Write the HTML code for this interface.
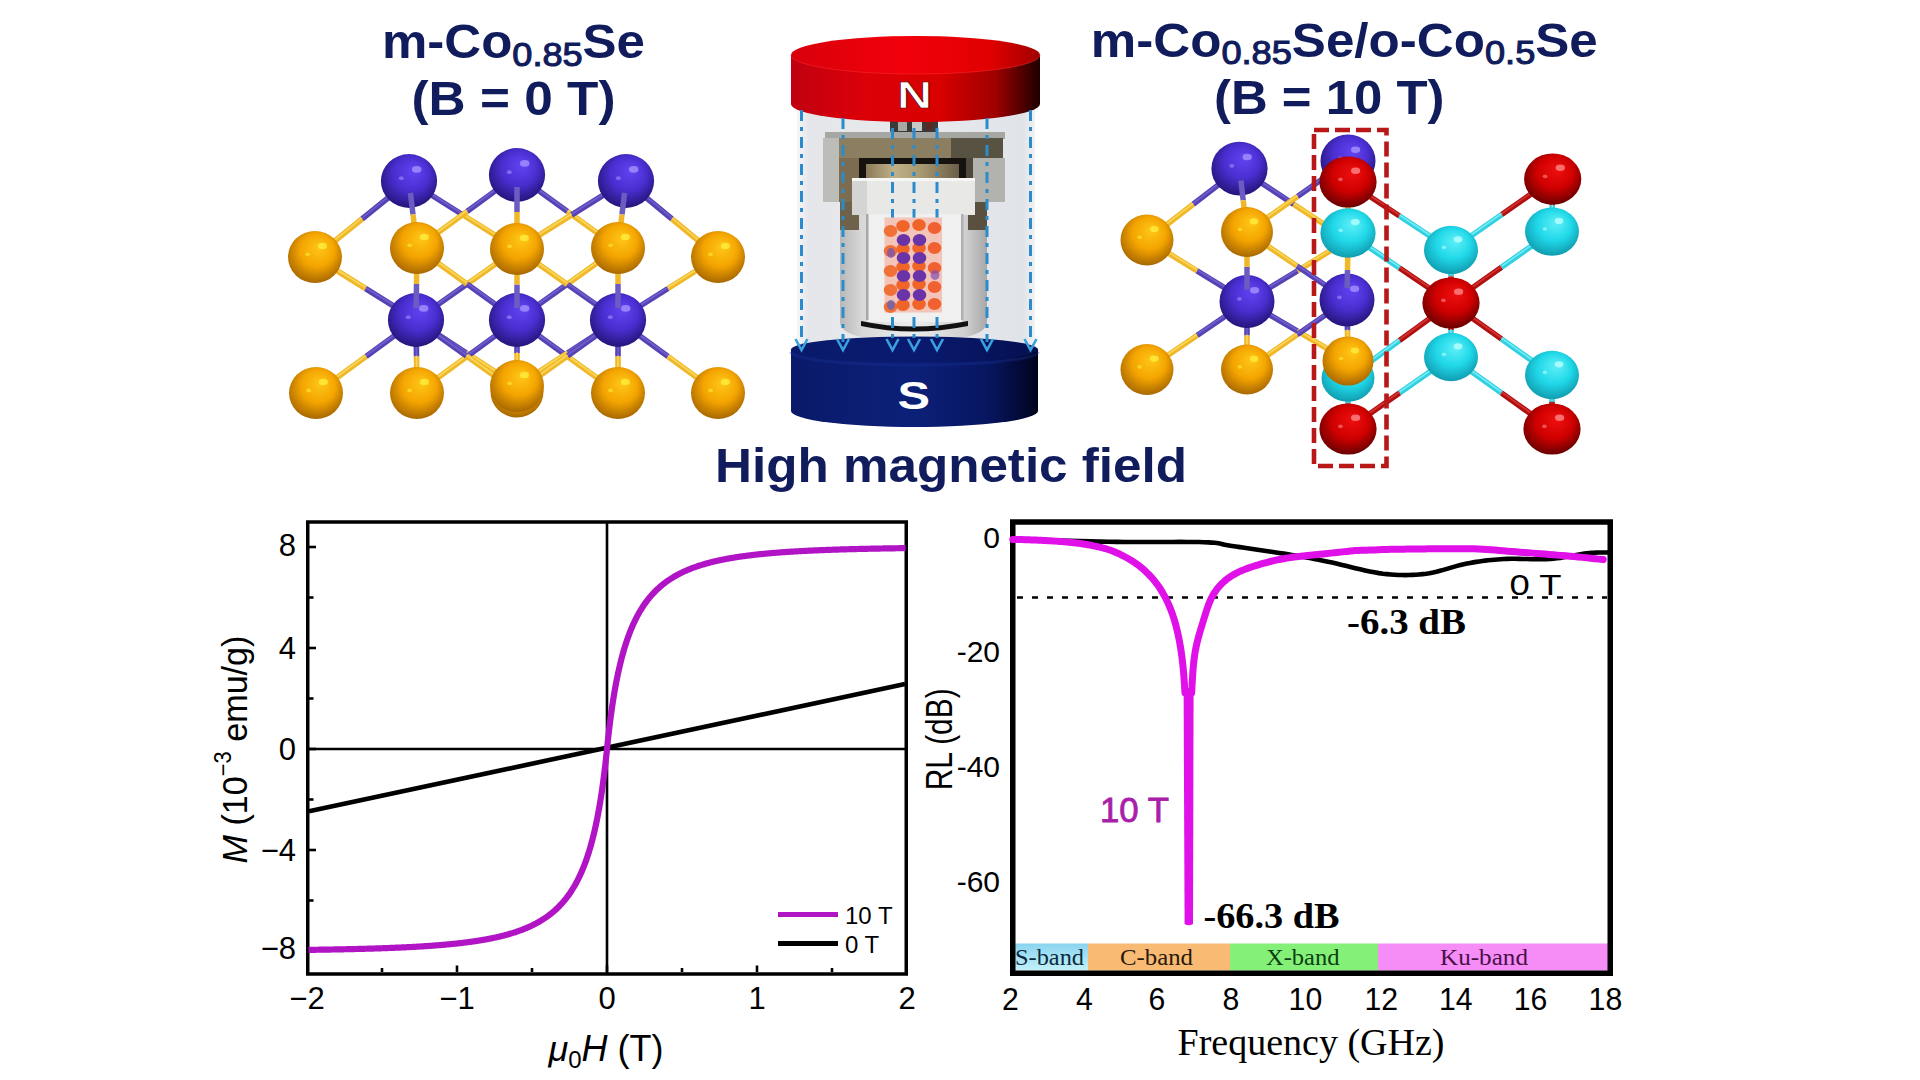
<!DOCTYPE html>
<html><head><meta charset="utf-8"><style>
html,body{margin:0;padding:0;background:#fff;}
body{width:1920px;height:1080px;overflow:hidden;position:relative;}
svg{position:absolute;left:0;top:0;}
text{font-family:"Liberation Sans",sans-serif;}
.tk{font-size:31px;fill:#000;}
.tk2{font-size:30px;fill:#000;}
.lg{font-size:24px;fill:#000;}
.lg2{font-size:30px;fill:#000;}
.al{font-size:36px;fill:#000;}
.al2{font-family:"Liberation Serif",serif;font-size:38px;fill:#000;}
.bd{font-family:"Liberation Serif",serif;font-size:24px;}
.db{font-family:"Liberation Serif",serif;font-weight:bold;font-size:36px;fill:#000;}
.mg{font-size:35px;fill:#a820a8;stroke:#a820a8;stroke-width:0.8px;}
.ttl{font-weight:bold;fill:#101c5c;}
</style></head><body>
<svg width="1920" height="1080" viewBox="0 0 1920 1080">
<defs><radialGradient id="gP" cx="0.5" cy="0.42" r="0.58" fx="0.6" fy="0.3"><stop offset="0" stop-color="#6444f4"/><stop offset="0.55" stop-color="#4a2ed0"/><stop offset="1" stop-color="#24157a"/></radialGradient>
<radialGradient id="gO" cx="0.5" cy="0.42" r="0.58" fx="0.6" fy="0.3"><stop offset="0" stop-color="#ffc818"/><stop offset="0.55" stop-color="#f4a400"/><stop offset="1" stop-color="#a86800"/></radialGradient>
<radialGradient id="gR" cx="0.5" cy="0.42" r="0.58" fx="0.6" fy="0.3"><stop offset="0" stop-color="#f01010"/><stop offset="0.55" stop-color="#d00000"/><stop offset="1" stop-color="#6a0000"/></radialGradient>
<radialGradient id="gC" cx="0.5" cy="0.42" r="0.58" fx="0.6" fy="0.3"><stop offset="0" stop-color="#60f0f8"/><stop offset="0.55" stop-color="#20d8e8"/><stop offset="1" stop-color="#109cb0"/></radialGradient><linearGradient id="sb" x1="0" y1="0" x2="0" y2="1"><stop offset="0" stop-color="#8ad4f0"/><stop offset="1" stop-color="#c4f0f8"/></linearGradient></defs>
<text x="382" y="57.6" class="ttl" font-size="48" textLength="263" lengthAdjust="spacingAndGlyphs">m-Co<tspan font-size="34" font-weight="normal" stroke="#101c5c" stroke-width="1.1" dy="8.6">0.85</tspan><tspan dy="-8.6">Se</tspan></text>
<text x="411.5" y="114.7" class="ttl" font-size="48" textLength="204" lengthAdjust="spacingAndGlyphs">(B = 0 T)</text>
<text x="1090.8" y="57.3" class="ttl" font-size="48" textLength="507" lengthAdjust="spacingAndGlyphs">m-Co<tspan font-size="34" font-weight="normal" stroke="#101c5c" stroke-width="1.1" dy="6.8">0.85</tspan><tspan dy="-6.8">Se/o-Co</tspan><tspan font-size="34" font-weight="normal" stroke="#101c5c" stroke-width="1.1" dy="6.8">0.5</tspan><tspan dy="-6.8">Se</tspan></text>
<text x="1214" y="114.3" class="ttl" font-size="48" textLength="230.5" lengthAdjust="spacingAndGlyphs">(B = 10 T)</text>
<text x="715" y="482" class="ttl" font-size="48" textLength="472" lengthAdjust="spacingAndGlyphs">High magnetic field</text>
<defs><linearGradient id="glass" x1="0" y1="0" x2="1" y2="0"><stop offset="0" stop-color="#f4f6f8"/><stop offset="0.05" stop-color="#e4e6ea"/><stop offset="0.5" stop-color="#e8eaee"/><stop offset="0.95" stop-color="#e0e3e8"/><stop offset="1" stop-color="#f0f2f4"/></linearGradient><linearGradient id="redside" x1="0" y1="0" x2="1" y2="0"><stop offset="0" stop-color="#c00010"/><stop offset="0.3" stop-color="#dc0008"/><stop offset="0.6" stop-color="#d80000"/><stop offset="0.82" stop-color="#a00000"/><stop offset="0.95" stop-color="#400000"/><stop offset="1" stop-color="#200000"/></linearGradient><linearGradient id="redtop" x1="0" y1="0" x2="1" y2="0"><stop offset="0" stop-color="#d8000a"/><stop offset="0.45" stop-color="#f2000c"/><stop offset="0.8" stop-color="#e00000"/><stop offset="1" stop-color="#a00000"/></linearGradient><linearGradient id="blueside" x1="0" y1="0" x2="1" y2="0"><stop offset="0" stop-color="#0a1a6a"/><stop offset="0.5" stop-color="#0c2078"/><stop offset="0.8" stop-color="#081660"/><stop offset="0.95" stop-color="#020830"/><stop offset="1" stop-color="#000418"/></linearGradient><linearGradient id="bluetop" x1="0" y1="0" x2="1" y2="0"><stop offset="0" stop-color="#0a1a6a"/><stop offset="0.5" stop-color="#0a1a70"/><stop offset="1" stop-color="#051050"/></linearGradient><linearGradient id="cyl" x1="0" y1="0" x2="1" y2="0"><stop offset="0" stop-color="#b8b8b8"/><stop offset="0.15" stop-color="#d8d8d8"/><stop offset="0.5" stop-color="#ececec"/><stop offset="0.85" stop-color="#d0d0d0"/><stop offset="1" stop-color="#a8a8a8"/></linearGradient><linearGradient id="capg" x1="0" y1="0" x2="1" y2="0"><stop offset="0" stop-color="#b8b8b4"/><stop offset="0.5" stop-color="#c8c8c4"/><stop offset="1" stop-color="#a0a09c"/></linearGradient><linearGradient id="khaki" x1="0" y1="0" x2="1" y2="0"><stop offset="0" stop-color="#7a6c50"/><stop offset="0.4" stop-color="#9a8a68"/><stop offset="0.7" stop-color="#6a5e48"/><stop offset="1" stop-color="#4a4436"/></linearGradient><linearGradient id="ring" x1="0" y1="0" x2="1" y2="0"><stop offset="0" stop-color="#8a7a58"/><stop offset="0.3" stop-color="#c0b088"/><stop offset="0.6" stop-color="#a89870"/><stop offset="1" stop-color="#6a5e48"/></linearGradient></defs>
<rect x="797" y="95" width="238" height="255" fill="url(#glass)"/>
<rect x="890" y="119" width="48" height="14" rx="3" fill="#3a3a38"/>
<rect x="898" y="121" width="9" height="10" fill="#a8a8a4"/><rect x="912" y="121" width="10" height="10" fill="#c8c8c4"/><rect x="926" y="121" width="7" height="9" fill="#5a2a22"/>
<path d="M840,198 L987,198 L987,322 Q987,341 913,341 Q840,341 840,322 Z" fill="url(#cyl)"/>
<rect x="840" y="200" width="19" height="30" fill="#6e624a"/>
<rect x="968" y="200" width="19" height="30" fill="#5a5040"/>
<rect x="825" y="132" width="180" height="7" fill="#a6a6a2"/>
<rect x="838" y="138" width="113" height="21" fill="#8c7e60"/>
<rect x="951" y="138" width="52" height="20" fill="#585242"/>
<rect x="823" y="138" width="16" height="64" fill="#bcbcb8"/>
<rect x="839" y="158" width="20" height="44" fill="#7c6c50"/>
<rect x="973" y="158" width="32" height="44" fill="#b2b2ae"/>
<rect x="958" y="158" width="15" height="44" fill="#4e483a"/>
<rect x="859" y="158" width="107" height="23" fill="#151210"/>
<rect x="866" y="164" width="93" height="16" fill="url(#ring)"/>
<path d="M852,178 L975,178 L975,215 L852,215 Z" fill="#e8e8e6"/>
<rect x="852" y="178" width="15" height="37" fill="#d4d4d2"/>
<rect x="852" y="178" width="123" height="3" fill="#f6f6f4"/>
<rect x="868" y="214" width="94" height="108" fill="#f0f0f0"/>
<rect x="866" y="214" width="2.5" height="106" fill="#a8a8a8"/>
<rect x="961" y="214" width="2.5" height="106" fill="#b0b0b0"/>
<path d="M861,321 Q913,332 968,321 L968,326 Q913,337 861,326 Z" fill="#111"/>
<path d="M791,55 L1040,55 L1040,104 A124.5,18 0 0 1 791,104 Z" fill="url(#redside)"/>
<ellipse cx="915.5" cy="55" rx="124.5" ry="19" fill="url(#redtop)"/>
<path d="M791,55 A124.5,19 0 0 0 1040,55" fill="none" stroke="#ff3030" stroke-width="1" opacity="0.5"/>
<text x="914.5" y="107.5" text-anchor="middle" font-family="Liberation Sans" font-weight="bold" font-size="37.5" fill="#fff" stroke="#6a0000" stroke-width="0.7" textLength="35" lengthAdjust="spacingAndGlyphs">N</text>
<path d="M791,349.5 L1038,349.5 L1038,411 A123.5,16 0 0 1 791,411 Z" fill="url(#blueside)"/>
<ellipse cx="914.5" cy="349.5" rx="123.5" ry="13" fill="url(#bluetop)"/>
<path d="M791,352 A123.5,13 0 0 0 1038,352" fill="none" stroke="#1a3098" stroke-width="3" opacity="0.35"/>
<text x="913.8" y="409" text-anchor="middle" font-family="Liberation Sans" font-weight="bold" font-size="38.5" fill="#fff" textLength="32.5" lengthAdjust="spacingAndGlyphs">S</text>
<line x1="801.5" y1="110" x2="801.5" y2="342" stroke="#2a8ccc" stroke-width="3" stroke-dasharray="11 6 4 6"/>
<path d="M795.5,339 L801.5,350 L807.5,339" fill="none" stroke="#3aa0e0" stroke-width="2.6"/>
<line x1="843" y1="118" x2="843" y2="342" stroke="#2a8ccc" stroke-width="3" stroke-dasharray="11 6 4 6"/>
<path d="M837,339 L843,350 L849,339" fill="none" stroke="#3aa0e0" stroke-width="2.6"/>
<line x1="892.5" y1="128" x2="892.5" y2="342" stroke="#2a8ccc" stroke-width="3" stroke-dasharray="11 6 4 6"/>
<path d="M886.5,339 L892.5,350 L898.5,339" fill="none" stroke="#3aa0e0" stroke-width="2.6"/>
<line x1="914" y1="128" x2="914" y2="342" stroke="#2a8ccc" stroke-width="3" stroke-dasharray="11 6 4 6"/>
<path d="M908,339 L914,350 L920,339" fill="none" stroke="#3aa0e0" stroke-width="2.6"/>
<line x1="937" y1="128" x2="937" y2="342" stroke="#2a8ccc" stroke-width="3" stroke-dasharray="11 6 4 6"/>
<path d="M931,339 L937,350 L943,339" fill="none" stroke="#3aa0e0" stroke-width="2.6"/>
<line x1="987" y1="118" x2="987" y2="342" stroke="#2a8ccc" stroke-width="3" stroke-dasharray="11 6 4 6"/>
<path d="M981,339 L987,350 L993,339" fill="none" stroke="#3aa0e0" stroke-width="2.6"/>
<line x1="1030.5" y1="110" x2="1030.5" y2="342" stroke="#2a8ccc" stroke-width="3" stroke-dasharray="11 6 4 6"/>
<path d="M1024.5,339 L1030.5,350 L1036.5,339" fill="none" stroke="#3aa0e0" stroke-width="2.6"/>
<rect x="884.5" y="217.5" width="57.5" height="95" fill="#f4c4b8"/>
<ellipse cx="890.5" cy="231" rx="6.8" ry="6" fill="#f07038"/>
<ellipse cx="934.5" cy="228" rx="6.8" ry="6" fill="#f06030"/>
<ellipse cx="890.5" cy="251" rx="6.8" ry="6" fill="#f07038"/>
<ellipse cx="934.5" cy="248" rx="6.8" ry="6" fill="#f06030"/>
<ellipse cx="890.5" cy="271" rx="6.8" ry="6" fill="#f07038"/>
<ellipse cx="934.5" cy="268" rx="6.8" ry="6" fill="#f06030"/>
<ellipse cx="890.5" cy="290" rx="6.8" ry="6" fill="#f07038"/>
<ellipse cx="934.5" cy="287" rx="6.8" ry="6" fill="#f06030"/>
<ellipse cx="890.5" cy="307" rx="6.8" ry="6" fill="#f07038"/>
<ellipse cx="934.5" cy="304" rx="6.8" ry="6" fill="#f06030"/>
<ellipse cx="903" cy="226" rx="6.8" ry="6" fill="#f06428"/>
<ellipse cx="919" cy="225" rx="6.8" ry="6" fill="#f06428"/>
<ellipse cx="903" cy="249" rx="6.8" ry="6" fill="#f06428"/>
<ellipse cx="919" cy="248" rx="6.8" ry="6" fill="#f06428"/>
<ellipse cx="903" cy="267" rx="6.8" ry="6" fill="#f06428"/>
<ellipse cx="919" cy="266" rx="6.8" ry="6" fill="#f06428"/>
<ellipse cx="903" cy="285" rx="6.8" ry="6" fill="#f06428"/>
<ellipse cx="919" cy="284" rx="6.8" ry="6" fill="#f06428"/>
<ellipse cx="903" cy="305" rx="6.8" ry="6" fill="#f06428"/>
<ellipse cx="919" cy="304" rx="6.8" ry="6" fill="#f06428"/>
<ellipse cx="903.5" cy="240" rx="6.8" ry="6" fill="#6a34a8"/>
<ellipse cx="919.5" cy="240" rx="6.8" ry="6" fill="#6a34a8"/>
<ellipse cx="903.5" cy="258" rx="6.8" ry="6" fill="#6a34a8"/>
<ellipse cx="919.5" cy="258" rx="6.8" ry="6" fill="#6a34a8"/>
<ellipse cx="903.5" cy="276" rx="6.8" ry="6" fill="#6a34a8"/>
<ellipse cx="919.5" cy="276" rx="6.8" ry="6" fill="#6a34a8"/>
<ellipse cx="903.5" cy="295" rx="6.8" ry="6" fill="#6a34a8"/>
<ellipse cx="919.5" cy="295" rx="6.8" ry="6" fill="#6a34a8"/>
<ellipse cx="891" cy="253" rx="4" ry="5" fill="#6a50c0" opacity="0.7"/>
<ellipse cx="935" cy="275" rx="4.5" ry="5" fill="#8050b0" opacity="0.7"/>
<ellipse cx="891" cy="305" rx="4" ry="5" fill="#5060c8" opacity="0.7"/>
<line x1="409" y1="181" x2="362.0" y2="219.0" stroke="#5642b4" stroke-width="5.6"/><line x1="362.0" y1="219.0" x2="315" y2="257" stroke="#f0b828" stroke-width="5.6"/><line x1="409" y1="180" x2="362.0" y2="218.0" stroke="#7a6ad8" stroke-width="1.6" opacity="0.7"/><line x1="362.0" y1="218.0" x2="315" y2="256" stroke="#ffe470" stroke-width="1.6" opacity="0.7"/>
<line x1="409" y1="181" x2="463.0" y2="215.0" stroke="#5642b4" stroke-width="5.6"/><line x1="463.0" y1="215.0" x2="517" y2="249" stroke="#f0b828" stroke-width="5.6"/><line x1="409" y1="180" x2="463.0" y2="214.0" stroke="#7a6ad8" stroke-width="1.6" opacity="0.7"/><line x1="463.0" y1="214.0" x2="517" y2="248" stroke="#ffe470" stroke-width="1.6" opacity="0.7"/>
<line x1="517" y1="175" x2="467.0" y2="211.5" stroke="#5642b4" stroke-width="5.6"/><line x1="467.0" y1="211.5" x2="417" y2="248" stroke="#f0b828" stroke-width="5.6"/><line x1="517" y1="174" x2="467.0" y2="210.5" stroke="#7a6ad8" stroke-width="1.6" opacity="0.7"/><line x1="467.0" y1="210.5" x2="417" y2="247" stroke="#ffe470" stroke-width="1.6" opacity="0.7"/>
<line x1="517" y1="175" x2="567.5" y2="211.5" stroke="#5642b4" stroke-width="5.6"/><line x1="567.5" y1="211.5" x2="618" y2="248" stroke="#f0b828" stroke-width="5.6"/><line x1="517" y1="174" x2="567.5" y2="210.5" stroke="#7a6ad8" stroke-width="1.6" opacity="0.7"/><line x1="567.5" y1="210.5" x2="618" y2="247" stroke="#ffe470" stroke-width="1.6" opacity="0.7"/>
<line x1="626" y1="181" x2="571.5" y2="215.0" stroke="#5642b4" stroke-width="5.6"/><line x1="571.5" y1="215.0" x2="517" y2="249" stroke="#f0b828" stroke-width="5.6"/><line x1="626" y1="180" x2="571.5" y2="214.0" stroke="#7a6ad8" stroke-width="1.6" opacity="0.7"/><line x1="571.5" y1="214.0" x2="517" y2="248" stroke="#ffe470" stroke-width="1.6" opacity="0.7"/>
<line x1="626" y1="181" x2="672.0" y2="219.0" stroke="#5642b4" stroke-width="5.6"/><line x1="672.0" y1="219.0" x2="718" y2="257" stroke="#f0b828" stroke-width="5.6"/><line x1="626" y1="180" x2="672.0" y2="218.0" stroke="#7a6ad8" stroke-width="1.6" opacity="0.7"/><line x1="672.0" y1="218.0" x2="718" y2="256" stroke="#ffe470" stroke-width="1.6" opacity="0.7"/>
<line x1="416" y1="320" x2="365.5" y2="288.5" stroke="#5642b4" stroke-width="5.6"/><line x1="365.5" y1="288.5" x2="315" y2="257" stroke="#f0b828" stroke-width="5.6"/><line x1="416" y1="319" x2="365.5" y2="287.5" stroke="#7a6ad8" stroke-width="1.6" opacity="0.7"/><line x1="365.5" y1="287.5" x2="315" y2="256" stroke="#ffe470" stroke-width="1.6" opacity="0.7"/>
<line x1="416" y1="320" x2="466.5" y2="284.5" stroke="#5642b4" stroke-width="5.6"/><line x1="466.5" y1="284.5" x2="517" y2="249" stroke="#f0b828" stroke-width="5.6"/><line x1="416" y1="319" x2="466.5" y2="283.5" stroke="#7a6ad8" stroke-width="1.6" opacity="0.7"/><line x1="466.5" y1="283.5" x2="517" y2="248" stroke="#ffe470" stroke-width="1.6" opacity="0.7"/>
<line x1="416" y1="320" x2="366.0" y2="356.5" stroke="#5642b4" stroke-width="5.6"/><line x1="366.0" y1="356.5" x2="316" y2="393" stroke="#f0b828" stroke-width="5.6"/><line x1="416" y1="319" x2="366.0" y2="355.5" stroke="#7a6ad8" stroke-width="1.6" opacity="0.7"/><line x1="366.0" y1="355.5" x2="316" y2="392" stroke="#ffe470" stroke-width="1.6" opacity="0.7"/>
<line x1="416" y1="320" x2="466.5" y2="353.0" stroke="#5642b4" stroke-width="5.6"/><line x1="466.5" y1="353.0" x2="517" y2="386" stroke="#f0b828" stroke-width="5.6"/><line x1="416" y1="319" x2="466.5" y2="352.0" stroke="#7a6ad8" stroke-width="1.6" opacity="0.7"/><line x1="466.5" y1="352.0" x2="517" y2="385" stroke="#ffe470" stroke-width="1.6" opacity="0.7"/>
<line x1="416" y1="320" x2="416.5" y2="356.5" stroke="#5642b4" stroke-width="5.6"/><line x1="416.5" y1="356.5" x2="417" y2="393" stroke="#f0b828" stroke-width="5.6"/><line x1="416" y1="319" x2="416.5" y2="355.5" stroke="#7a6ad8" stroke-width="1.6" opacity="0.7"/><line x1="416.5" y1="355.5" x2="417" y2="392" stroke="#ffe470" stroke-width="1.6" opacity="0.7"/>
<line x1="517" y1="320" x2="467.0" y2="284.0" stroke="#5642b4" stroke-width="5.6"/><line x1="467.0" y1="284.0" x2="417" y2="248" stroke="#f0b828" stroke-width="5.6"/><line x1="517" y1="319" x2="467.0" y2="283.0" stroke="#7a6ad8" stroke-width="1.6" opacity="0.7"/><line x1="467.0" y1="283.0" x2="417" y2="247" stroke="#ffe470" stroke-width="1.6" opacity="0.7"/>
<line x1="517" y1="320" x2="567.5" y2="284.0" stroke="#5642b4" stroke-width="5.6"/><line x1="567.5" y1="284.0" x2="618" y2="248" stroke="#f0b828" stroke-width="5.6"/><line x1="517" y1="319" x2="567.5" y2="283.0" stroke="#7a6ad8" stroke-width="1.6" opacity="0.7"/><line x1="567.5" y1="283.0" x2="618" y2="247" stroke="#ffe470" stroke-width="1.6" opacity="0.7"/>
<line x1="517" y1="320" x2="467.0" y2="356.5" stroke="#5642b4" stroke-width="5.6"/><line x1="467.0" y1="356.5" x2="417" y2="393" stroke="#f0b828" stroke-width="5.6"/><line x1="517" y1="319" x2="467.0" y2="355.5" stroke="#7a6ad8" stroke-width="1.6" opacity="0.7"/><line x1="467.0" y1="355.5" x2="417" y2="392" stroke="#ffe470" stroke-width="1.6" opacity="0.7"/>
<line x1="517" y1="320" x2="567.5" y2="356.5" stroke="#5642b4" stroke-width="5.6"/><line x1="567.5" y1="356.5" x2="618" y2="393" stroke="#f0b828" stroke-width="5.6"/><line x1="517" y1="319" x2="567.5" y2="355.5" stroke="#7a6ad8" stroke-width="1.6" opacity="0.7"/><line x1="567.5" y1="355.5" x2="618" y2="392" stroke="#ffe470" stroke-width="1.6" opacity="0.7"/>
<line x1="517" y1="320" x2="517.0" y2="353.0" stroke="#5642b4" stroke-width="5.6"/><line x1="517.0" y1="353.0" x2="517" y2="386" stroke="#f0b828" stroke-width="5.6"/><line x1="517" y1="319" x2="517.0" y2="352.0" stroke="#7a6ad8" stroke-width="1.6" opacity="0.7"/><line x1="517.0" y1="352.0" x2="517" y2="385" stroke="#ffe470" stroke-width="1.6" opacity="0.7"/>
<line x1="618" y1="320" x2="567.5" y2="284.5" stroke="#5642b4" stroke-width="5.6"/><line x1="567.5" y1="284.5" x2="517" y2="249" stroke="#f0b828" stroke-width="5.6"/><line x1="618" y1="319" x2="567.5" y2="283.5" stroke="#7a6ad8" stroke-width="1.6" opacity="0.7"/><line x1="567.5" y1="283.5" x2="517" y2="248" stroke="#ffe470" stroke-width="1.6" opacity="0.7"/>
<line x1="618" y1="320" x2="668.0" y2="288.5" stroke="#5642b4" stroke-width="5.6"/><line x1="668.0" y1="288.5" x2="718" y2="257" stroke="#f0b828" stroke-width="5.6"/><line x1="618" y1="319" x2="668.0" y2="287.5" stroke="#7a6ad8" stroke-width="1.6" opacity="0.7"/><line x1="668.0" y1="287.5" x2="718" y2="256" stroke="#ffe470" stroke-width="1.6" opacity="0.7"/>
<line x1="618" y1="320" x2="567.5" y2="353.0" stroke="#5642b4" stroke-width="5.6"/><line x1="567.5" y1="353.0" x2="517" y2="386" stroke="#f0b828" stroke-width="5.6"/><line x1="618" y1="319" x2="567.5" y2="352.0" stroke="#7a6ad8" stroke-width="1.6" opacity="0.7"/><line x1="567.5" y1="352.0" x2="517" y2="385" stroke="#ffe470" stroke-width="1.6" opacity="0.7"/>
<line x1="618" y1="320" x2="668.0" y2="356.5" stroke="#5642b4" stroke-width="5.6"/><line x1="668.0" y1="356.5" x2="718" y2="393" stroke="#f0b828" stroke-width="5.6"/><line x1="618" y1="319" x2="668.0" y2="355.5" stroke="#7a6ad8" stroke-width="1.6" opacity="0.7"/><line x1="668.0" y1="355.5" x2="718" y2="392" stroke="#ffe470" stroke-width="1.6" opacity="0.7"/>
<line x1="618" y1="320" x2="618.0" y2="356.5" stroke="#5642b4" stroke-width="5.6"/><line x1="618.0" y1="356.5" x2="618" y2="393" stroke="#f0b828" stroke-width="5.6"/><line x1="618" y1="319" x2="618.0" y2="355.5" stroke="#7a6ad8" stroke-width="1.6" opacity="0.7"/><line x1="618.0" y1="355.5" x2="618" y2="392" stroke="#ffe470" stroke-width="1.6" opacity="0.7"/>
<line x1="416" y1="320" x2="466.5" y2="356.0" stroke="#5642b4" stroke-width="5.6"/><line x1="466.5" y1="356.0" x2="517" y2="392" stroke="#f0b828" stroke-width="5.6"/><line x1="416" y1="319" x2="466.5" y2="355.0" stroke="#7a6ad8" stroke-width="1.6" opacity="0.7"/><line x1="466.5" y1="355.0" x2="517" y2="391" stroke="#ffe470" stroke-width="1.6" opacity="0.7"/>
<line x1="618" y1="320" x2="567.5" y2="356.0" stroke="#5642b4" stroke-width="5.6"/><line x1="567.5" y1="356.0" x2="517" y2="392" stroke="#f0b828" stroke-width="5.6"/><line x1="618" y1="319" x2="567.5" y2="355.0" stroke="#7a6ad8" stroke-width="1.6" opacity="0.7"/><line x1="567.5" y1="355.0" x2="517" y2="391" stroke="#ffe470" stroke-width="1.6" opacity="0.7"/>
<ellipse cx="517" cy="392" rx="26.5" ry="25.5" fill="url(#gO)"/><ellipse cx="524.3" cy="381.1" rx="4.4" ry="3.1" fill="#fff040" opacity="0.75"/><ellipse cx="509.7" cy="389.4" rx="2.3" ry="1.8" fill="#fff040" opacity="0.55"/>
<ellipse cx="409" cy="181" rx="28.1" ry="26.9" fill="url(#gP)"/><ellipse cx="416.7" cy="169.4" rx="4.7" ry="3.3" fill="#a898ff" opacity="0.75"/><ellipse cx="401.3" cy="178.2" rx="2.5" ry="1.9" fill="#a898ff" opacity="0.55"/>
<ellipse cx="517" cy="175" rx="28.1" ry="26.9" fill="url(#gP)"/><ellipse cx="524.7" cy="163.4" rx="4.7" ry="3.3" fill="#a898ff" opacity="0.75"/><ellipse cx="509.3" cy="172.2" rx="2.5" ry="1.9" fill="#a898ff" opacity="0.55"/>
<ellipse cx="626" cy="181" rx="28.1" ry="26.9" fill="url(#gP)"/><ellipse cx="633.7" cy="169.4" rx="4.7" ry="3.3" fill="#a898ff" opacity="0.75"/><ellipse cx="618.3" cy="178.2" rx="2.5" ry="1.9" fill="#a898ff" opacity="0.55"/>
<ellipse cx="416" cy="320" rx="28.1" ry="26.9" fill="url(#gP)"/><ellipse cx="423.7" cy="308.4" rx="4.7" ry="3.3" fill="#a898ff" opacity="0.75"/><ellipse cx="408.3" cy="317.2" rx="2.5" ry="1.9" fill="#a898ff" opacity="0.55"/>
<ellipse cx="517" cy="320" rx="28.1" ry="26.9" fill="url(#gP)"/><ellipse cx="524.7" cy="308.4" rx="4.7" ry="3.3" fill="#a898ff" opacity="0.75"/><ellipse cx="509.3" cy="317.2" rx="2.5" ry="1.9" fill="#a898ff" opacity="0.55"/>
<ellipse cx="618" cy="320" rx="28.1" ry="26.9" fill="url(#gP)"/><ellipse cx="625.7" cy="308.4" rx="4.7" ry="3.3" fill="#a898ff" opacity="0.75"/><ellipse cx="610.3" cy="317.2" rx="2.5" ry="1.9" fill="#a898ff" opacity="0.55"/>
<line x1="410.4" y1="192.9" x2="413.0" y2="214.5" stroke="#6a5cc0" stroke-width="5.5"/><line x1="413.0" y1="214.5" x2="417" y2="248" stroke="#f0b828" stroke-width="5.5"/>
<line x1="517.0" y1="187.0" x2="517.0" y2="212.0" stroke="#6a5cc0" stroke-width="5.5"/><line x1="517.0" y1="212.0" x2="517" y2="249" stroke="#f0b828" stroke-width="5.5"/>
<line x1="624.6" y1="192.9" x2="622.0" y2="214.5" stroke="#6a5cc0" stroke-width="5.5"/><line x1="622.0" y1="214.5" x2="618" y2="248" stroke="#f0b828" stroke-width="5.5"/>
<line x1="416.2" y1="308.0" x2="416.5" y2="284.0" stroke="#6a5cc0" stroke-width="5.5"/><line x1="416.5" y1="284.0" x2="417" y2="248" stroke="#f0b828" stroke-width="5.5"/>
<line x1="517.0" y1="308.0" x2="517.0" y2="284.5" stroke="#6a5cc0" stroke-width="5.5"/><line x1="517.0" y1="284.5" x2="517" y2="249" stroke="#f0b828" stroke-width="5.5"/>
<line x1="618.0" y1="308.0" x2="618.0" y2="284.0" stroke="#6a5cc0" stroke-width="5.5"/><line x1="618.0" y1="284.0" x2="618" y2="248" stroke="#f0b828" stroke-width="5.5"/>
<ellipse cx="315" cy="257" rx="27.0" ry="26.0" fill="url(#gO)"/><ellipse cx="322.4" cy="245.9" rx="4.5" ry="3.2" fill="#fff040" opacity="0.75"/><ellipse cx="307.6" cy="254.3" rx="2.4" ry="1.9" fill="#fff040" opacity="0.55"/>
<ellipse cx="417" cy="248" rx="27.0" ry="26.0" fill="url(#gO)"/><ellipse cx="424.4" cy="236.9" rx="4.5" ry="3.2" fill="#fff040" opacity="0.75"/><ellipse cx="409.6" cy="245.3" rx="2.4" ry="1.9" fill="#fff040" opacity="0.55"/>
<ellipse cx="517" cy="249" rx="27.0" ry="26.0" fill="url(#gO)"/><ellipse cx="524.4" cy="237.9" rx="4.5" ry="3.2" fill="#fff040" opacity="0.75"/><ellipse cx="509.6" cy="246.3" rx="2.4" ry="1.9" fill="#fff040" opacity="0.55"/>
<ellipse cx="618" cy="248" rx="27.0" ry="26.0" fill="url(#gO)"/><ellipse cx="625.4" cy="236.9" rx="4.5" ry="3.2" fill="#fff040" opacity="0.75"/><ellipse cx="610.6" cy="245.3" rx="2.4" ry="1.9" fill="#fff040" opacity="0.55"/>
<ellipse cx="718" cy="257" rx="27.0" ry="26.0" fill="url(#gO)"/><ellipse cx="725.4" cy="245.9" rx="4.5" ry="3.2" fill="#fff040" opacity="0.75"/><ellipse cx="710.6" cy="254.3" rx="2.4" ry="1.9" fill="#fff040" opacity="0.55"/>
<ellipse cx="316" cy="393" rx="27.0" ry="26.0" fill="url(#gO)"/><ellipse cx="323.4" cy="381.9" rx="4.5" ry="3.2" fill="#fff040" opacity="0.75"/><ellipse cx="308.6" cy="390.4" rx="2.4" ry="1.9" fill="#fff040" opacity="0.55"/>
<ellipse cx="417" cy="393" rx="27.0" ry="26.0" fill="url(#gO)"/><ellipse cx="424.4" cy="381.9" rx="4.5" ry="3.2" fill="#fff040" opacity="0.75"/><ellipse cx="409.6" cy="390.4" rx="2.4" ry="1.9" fill="#fff040" opacity="0.55"/>
<ellipse cx="517" cy="386" rx="27.0" ry="26.0" fill="url(#gO)"/><ellipse cx="524.4" cy="374.9" rx="4.5" ry="3.2" fill="#fff040" opacity="0.75"/><ellipse cx="509.6" cy="383.4" rx="2.4" ry="1.9" fill="#fff040" opacity="0.55"/>
<ellipse cx="618" cy="393" rx="27.0" ry="26.0" fill="url(#gO)"/><ellipse cx="625.4" cy="381.9" rx="4.5" ry="3.2" fill="#fff040" opacity="0.75"/><ellipse cx="610.6" cy="390.4" rx="2.4" ry="1.9" fill="#fff040" opacity="0.55"/>
<ellipse cx="718" cy="393" rx="27.0" ry="26.0" fill="url(#gO)"/><ellipse cx="725.4" cy="381.9" rx="4.5" ry="3.2" fill="#fff040" opacity="0.75"/><ellipse cx="710.6" cy="390.4" rx="2.4" ry="1.9" fill="#fff040" opacity="0.55"/>
<line x1="1239.5" y1="168.6" x2="1193.2" y2="204.3" stroke="#5642b4" stroke-width="5.6"/><line x1="1193.2" y1="204.3" x2="1147" y2="240" stroke="#f0b828" stroke-width="5.6"/><line x1="1239.5" y1="167.6" x2="1193.2" y2="203.3" stroke="#7a6ad8" stroke-width="1.6" opacity="0.7"/><line x1="1193.2" y1="203.3" x2="1147" y2="239" stroke="#ffe470" stroke-width="1.6" opacity="0.7"/>
<line x1="1239.5" y1="168.6" x2="1293.8" y2="204.3" stroke="#5642b4" stroke-width="5.6"/><line x1="1293.8" y1="204.3" x2="1348" y2="240" stroke="#f0b828" stroke-width="5.6"/><line x1="1239.5" y1="167.6" x2="1293.8" y2="203.3" stroke="#7a6ad8" stroke-width="1.6" opacity="0.7"/><line x1="1293.8" y1="203.3" x2="1348" y2="239" stroke="#ffe470" stroke-width="1.6" opacity="0.7"/>
<line x1="1348" y1="161" x2="1297.5" y2="196.5" stroke="#5642b4" stroke-width="5.6"/><line x1="1297.5" y1="196.5" x2="1247" y2="232" stroke="#f0b828" stroke-width="5.6"/><line x1="1348" y1="160" x2="1297.5" y2="195.5" stroke="#7a6ad8" stroke-width="1.6" opacity="0.7"/><line x1="1297.5" y1="195.5" x2="1247" y2="231" stroke="#ffe470" stroke-width="1.6" opacity="0.7"/>
<line x1="1247" y1="301.5" x2="1197.0" y2="270.8" stroke="#5642b4" stroke-width="5.6"/><line x1="1197.0" y1="270.8" x2="1147" y2="240" stroke="#f0b828" stroke-width="5.6"/><line x1="1247" y1="300.5" x2="1197.0" y2="269.8" stroke="#7a6ad8" stroke-width="1.6" opacity="0.7"/><line x1="1197.0" y1="269.8" x2="1147" y2="239" stroke="#ffe470" stroke-width="1.6" opacity="0.7"/>
<line x1="1247" y1="301.5" x2="1297.5" y2="270.8" stroke="#5642b4" stroke-width="5.6"/><line x1="1297.5" y1="270.8" x2="1348" y2="240" stroke="#f0b828" stroke-width="5.6"/><line x1="1247" y1="300.5" x2="1297.5" y2="269.8" stroke="#7a6ad8" stroke-width="1.6" opacity="0.7"/><line x1="1297.5" y1="269.8" x2="1348" y2="239" stroke="#ffe470" stroke-width="1.6" opacity="0.7"/>
<line x1="1247" y1="301.5" x2="1197.0" y2="335.5" stroke="#5642b4" stroke-width="5.6"/><line x1="1197.0" y1="335.5" x2="1147" y2="369.5" stroke="#f0b828" stroke-width="5.6"/><line x1="1247" y1="300.5" x2="1197.0" y2="334.5" stroke="#7a6ad8" stroke-width="1.6" opacity="0.7"/><line x1="1197.0" y1="334.5" x2="1147" y2="368.5" stroke="#ffe470" stroke-width="1.6" opacity="0.7"/>
<line x1="1247" y1="301.5" x2="1247.0" y2="335.5" stroke="#5642b4" stroke-width="5.6"/><line x1="1247.0" y1="335.5" x2="1247" y2="369.5" stroke="#f0b828" stroke-width="5.6"/><line x1="1247" y1="300.5" x2="1247.0" y2="334.5" stroke="#7a6ad8" stroke-width="1.6" opacity="0.7"/><line x1="1247.0" y1="334.5" x2="1247" y2="368.5" stroke="#ffe470" stroke-width="1.6" opacity="0.7"/>
<line x1="1247" y1="301.5" x2="1297.5" y2="331.2" stroke="#5642b4" stroke-width="5.6"/><line x1="1297.5" y1="331.2" x2="1348" y2="361" stroke="#f0b828" stroke-width="5.6"/><line x1="1247" y1="300.5" x2="1297.5" y2="330.2" stroke="#7a6ad8" stroke-width="1.6" opacity="0.7"/><line x1="1297.5" y1="330.2" x2="1348" y2="360" stroke="#ffe470" stroke-width="1.6" opacity="0.7"/>
<line x1="1347" y1="300" x2="1297.0" y2="266.0" stroke="#5642b4" stroke-width="5.6"/><line x1="1297.0" y1="266.0" x2="1247" y2="232" stroke="#f0b828" stroke-width="5.6"/><line x1="1347" y1="299" x2="1297.0" y2="265.0" stroke="#7a6ad8" stroke-width="1.6" opacity="0.7"/><line x1="1297.0" y1="265.0" x2="1247" y2="231" stroke="#ffe470" stroke-width="1.6" opacity="0.7"/>
<line x1="1347" y1="300" x2="1297.0" y2="334.8" stroke="#5642b4" stroke-width="5.6"/><line x1="1297.0" y1="334.8" x2="1247" y2="369.5" stroke="#f0b828" stroke-width="5.6"/><line x1="1347" y1="299" x2="1297.0" y2="333.8" stroke="#7a6ad8" stroke-width="1.6" opacity="0.7"/><line x1="1297.0" y1="333.8" x2="1247" y2="368.5" stroke="#ffe470" stroke-width="1.6" opacity="0.7"/>
<line x1="1347" y1="300" x2="1347.5" y2="330.5" stroke="#5642b4" stroke-width="5.6"/><line x1="1347.5" y1="330.5" x2="1348" y2="361" stroke="#f0b828" stroke-width="5.6"/><line x1="1347" y1="299" x2="1347.5" y2="329.5" stroke="#7a6ad8" stroke-width="1.6" opacity="0.7"/><line x1="1347.5" y1="329.5" x2="1348" y2="360" stroke="#ffe470" stroke-width="1.6" opacity="0.7"/>
<line x1="1348" y1="182" x2="1399.5" y2="216.0" stroke="#b01010" stroke-width="5.6"/><line x1="1399.5" y1="216.0" x2="1451" y2="250" stroke="#30d0e0" stroke-width="5.6"/><line x1="1348" y1="181" x2="1399.5" y2="215.0" stroke="#e04040" stroke-width="1.6" opacity="0.7"/><line x1="1399.5" y1="215.0" x2="1451" y2="249" stroke="#90f8ff" stroke-width="1.6" opacity="0.7"/>
<line x1="1348" y1="233" x2="1399.5" y2="268.0" stroke="#30d0e0" stroke-width="5.6"/><line x1="1399.5" y1="268.0" x2="1451" y2="303" stroke="#b01010" stroke-width="5.6"/><line x1="1348" y1="232" x2="1399.5" y2="267.0" stroke="#90f8ff" stroke-width="1.6" opacity="0.7"/><line x1="1399.5" y1="267.0" x2="1451" y2="302" stroke="#e04040" stroke-width="1.6" opacity="0.7"/>
<line x1="1451" y1="303" x2="1501.5" y2="267.3" stroke="#b01010" stroke-width="5.6"/><line x1="1501.5" y1="267.3" x2="1552" y2="231.6" stroke="#30d0e0" stroke-width="5.6"/><line x1="1451" y1="302" x2="1501.5" y2="266.3" stroke="#e04040" stroke-width="1.6" opacity="0.7"/><line x1="1501.5" y1="266.3" x2="1552" y2="230.6" stroke="#90f8ff" stroke-width="1.6" opacity="0.7"/>
<line x1="1451" y1="250" x2="1501.8" y2="214.5" stroke="#30d0e0" stroke-width="5.6"/><line x1="1501.8" y1="214.5" x2="1552.7" y2="179" stroke="#b01010" stroke-width="5.6"/><line x1="1451" y1="249" x2="1501.8" y2="213.5" stroke="#90f8ff" stroke-width="1.6" opacity="0.7"/><line x1="1501.8" y1="213.5" x2="1552.7" y2="178" stroke="#e04040" stroke-width="1.6" opacity="0.7"/>
<line x1="1451" y1="250" x2="1451.0" y2="276.5" stroke="#30d0e0" stroke-width="5.6"/><line x1="1451.0" y1="276.5" x2="1451" y2="303" stroke="#b01010" stroke-width="5.6"/><line x1="1451" y1="249" x2="1451.0" y2="275.5" stroke="#90f8ff" stroke-width="1.6" opacity="0.7"/><line x1="1451.0" y1="275.5" x2="1451" y2="302" stroke="#e04040" stroke-width="1.6" opacity="0.7"/>
<line x1="1451" y1="303" x2="1451.0" y2="330.0" stroke="#b01010" stroke-width="5.6"/><line x1="1451.0" y1="330.0" x2="1451" y2="357" stroke="#30d0e0" stroke-width="5.6"/><line x1="1451" y1="302" x2="1451.0" y2="329.0" stroke="#e04040" stroke-width="1.6" opacity="0.7"/><line x1="1451.0" y1="329.0" x2="1451" y2="356" stroke="#90f8ff" stroke-width="1.6" opacity="0.7"/>
<line x1="1451" y1="303" x2="1501.5" y2="339.0" stroke="#b01010" stroke-width="5.6"/><line x1="1501.5" y1="339.0" x2="1552" y2="375" stroke="#30d0e0" stroke-width="5.6"/><line x1="1451" y1="302" x2="1501.5" y2="338.0" stroke="#e04040" stroke-width="1.6" opacity="0.7"/><line x1="1501.5" y1="338.0" x2="1552" y2="374" stroke="#90f8ff" stroke-width="1.6" opacity="0.7"/>
<line x1="1348" y1="378" x2="1399.5" y2="340.5" stroke="#30d0e0" stroke-width="5.6"/><line x1="1399.5" y1="340.5" x2="1451" y2="303" stroke="#b01010" stroke-width="5.6"/><line x1="1348" y1="377" x2="1399.5" y2="339.5" stroke="#90f8ff" stroke-width="1.6" opacity="0.7"/><line x1="1399.5" y1="339.5" x2="1451" y2="302" stroke="#e04040" stroke-width="1.6" opacity="0.7"/>
<line x1="1451" y1="357" x2="1399.5" y2="393.0" stroke="#30d0e0" stroke-width="5.6"/><line x1="1399.5" y1="393.0" x2="1348" y2="429" stroke="#b01010" stroke-width="5.6"/><line x1="1451" y1="356" x2="1399.5" y2="392.0" stroke="#90f8ff" stroke-width="1.6" opacity="0.7"/><line x1="1399.5" y1="392.0" x2="1348" y2="428" stroke="#e04040" stroke-width="1.6" opacity="0.7"/>
<line x1="1451" y1="357" x2="1501.5" y2="393.0" stroke="#30d0e0" stroke-width="5.6"/><line x1="1501.5" y1="393.0" x2="1552" y2="429" stroke="#b01010" stroke-width="5.6"/><line x1="1451" y1="356" x2="1501.5" y2="392.0" stroke="#90f8ff" stroke-width="1.6" opacity="0.7"/><line x1="1501.5" y1="392.0" x2="1552" y2="428" stroke="#e04040" stroke-width="1.6" opacity="0.7"/>
<line x1="1552" y1="375" x2="1552.0" y2="402.0" stroke="#30d0e0" stroke-width="5.6"/><line x1="1552.0" y1="402.0" x2="1552" y2="429" stroke="#b01010" stroke-width="5.6"/><line x1="1552" y1="374" x2="1552.0" y2="401.0" stroke="#90f8ff" stroke-width="1.6" opacity="0.7"/><line x1="1552.0" y1="401.0" x2="1552" y2="428" stroke="#e04040" stroke-width="1.6" opacity="0.7"/>
<line x1="1348" y1="182" x2="1348.0" y2="207.5" stroke="#b01010" stroke-width="5.6"/><line x1="1348.0" y1="207.5" x2="1348" y2="233" stroke="#30d0e0" stroke-width="5.6"/><line x1="1348" y1="181" x2="1348.0" y2="206.5" stroke="#e04040" stroke-width="1.6" opacity="0.7"/><line x1="1348.0" y1="206.5" x2="1348" y2="232" stroke="#90f8ff" stroke-width="1.6" opacity="0.7"/>
<line x1="1348" y1="378" x2="1348.0" y2="403.5" stroke="#30d0e0" stroke-width="5.6"/><line x1="1348.0" y1="403.5" x2="1348" y2="429" stroke="#b01010" stroke-width="5.6"/><line x1="1348" y1="377" x2="1348.0" y2="402.5" stroke="#90f8ff" stroke-width="1.6" opacity="0.7"/><line x1="1348.0" y1="402.5" x2="1348" y2="428" stroke="#e04040" stroke-width="1.6" opacity="0.7"/>
<line x1="1552" y1="231.6" x2="1552.3" y2="205.3" stroke="#30d0e0" stroke-width="5.6"/><line x1="1552.3" y1="205.3" x2="1552.7" y2="179" stroke="#b01010" stroke-width="5.6"/><line x1="1552" y1="230.6" x2="1552.3" y2="204.3" stroke="#90f8ff" stroke-width="1.6" opacity="0.7"/><line x1="1552.3" y1="204.3" x2="1552.7" y2="178" stroke="#e04040" stroke-width="1.6" opacity="0.7"/>
<ellipse cx="1348" cy="161" rx="27.5" ry="26.5" fill="url(#gP)"/><ellipse cx="1355.6" cy="149.7" rx="4.6" ry="3.2" fill="#a898ff" opacity="0.75"/><ellipse cx="1340.4" cy="158.3" rx="2.4" ry="1.9" fill="#a898ff" opacity="0.55"/>
<ellipse cx="1239.5" cy="168.6" rx="28.1" ry="26.9" fill="url(#gP)"/><ellipse cx="1247.2" cy="157.0" rx="4.7" ry="3.3" fill="#a898ff" opacity="0.75"/><ellipse cx="1231.8" cy="165.8" rx="2.5" ry="1.9" fill="#a898ff" opacity="0.55"/>
<ellipse cx="1247" cy="301.5" rx="27.5" ry="26.5" fill="url(#gP)"/><ellipse cx="1254.6" cy="290.2" rx="4.6" ry="3.2" fill="#a898ff" opacity="0.75"/><ellipse cx="1239.4" cy="298.8" rx="2.4" ry="1.9" fill="#a898ff" opacity="0.55"/>
<ellipse cx="1347" cy="300" rx="27.5" ry="26.5" fill="url(#gP)"/><ellipse cx="1354.6" cy="288.7" rx="4.6" ry="3.2" fill="#a898ff" opacity="0.75"/><ellipse cx="1339.4" cy="297.3" rx="2.4" ry="1.9" fill="#a898ff" opacity="0.55"/>
<line x1="1240.9" y1="180.5" x2="1243.2" y2="200.3" stroke="#6a5cc0" stroke-width="5.5"/><line x1="1243.2" y1="200.3" x2="1247" y2="232" stroke="#f0b828" stroke-width="5.5"/>
<line x1="1348.0" y1="173.0" x2="1348.0" y2="200.5" stroke="#6a5cc0" stroke-width="5.5"/><line x1="1348.0" y1="200.5" x2="1348" y2="240" stroke="#f0b828" stroke-width="5.5"/>
<line x1="1247.0" y1="289.5" x2="1247.0" y2="266.8" stroke="#6a5cc0" stroke-width="5.5"/><line x1="1247.0" y1="266.8" x2="1247" y2="232" stroke="#f0b828" stroke-width="5.5"/>
<line x1="1347.2" y1="288.0" x2="1347.5" y2="270.0" stroke="#6a5cc0" stroke-width="5.5"/><line x1="1347.5" y1="270.0" x2="1348" y2="240" stroke="#f0b828" stroke-width="5.5"/>
<ellipse cx="1147" cy="240" rx="26.5" ry="25.5" fill="url(#gO)"/><ellipse cx="1154.3" cy="229.1" rx="4.4" ry="3.1" fill="#fff040" opacity="0.75"/><ellipse cx="1139.7" cy="237.4" rx="2.3" ry="1.8" fill="#fff040" opacity="0.55"/>
<ellipse cx="1247" cy="232" rx="26.0" ry="25.0" fill="url(#gO)"/><ellipse cx="1254.1" cy="221.3" rx="4.3" ry="3.1" fill="#fff040" opacity="0.75"/><ellipse cx="1239.9" cy="229.4" rx="2.3" ry="1.8" fill="#fff040" opacity="0.55"/>
<ellipse cx="1147" cy="369.5" rx="26.5" ry="25.5" fill="url(#gO)"/><ellipse cx="1154.3" cy="358.6" rx="4.4" ry="3.1" fill="#fff040" opacity="0.75"/><ellipse cx="1139.7" cy="366.9" rx="2.3" ry="1.8" fill="#fff040" opacity="0.55"/>
<ellipse cx="1247" cy="369.5" rx="26.0" ry="25.0" fill="url(#gO)"/><ellipse cx="1254.1" cy="358.8" rx="4.3" ry="3.1" fill="#fff040" opacity="0.75"/><ellipse cx="1239.9" cy="366.9" rx="2.3" ry="1.8" fill="#fff040" opacity="0.55"/>
<ellipse cx="1348" cy="378" rx="26.5" ry="23.8" fill="url(#gC)"/><ellipse cx="1355.0" cy="367.5" rx="4.2" ry="3.0" fill="#c0ffff" opacity="0.75"/><ellipse cx="1341.0" cy="375.5" rx="2.2" ry="1.8" fill="#c0ffff" opacity="0.55"/>
<ellipse cx="1348" cy="361" rx="25.5" ry="24.5" fill="url(#gO)"/><ellipse cx="1355.0" cy="350.5" rx="4.2" ry="3.0" fill="#fff040" opacity="0.75"/><ellipse cx="1341.0" cy="358.5" rx="2.2" ry="1.8" fill="#fff040" opacity="0.55"/>
<ellipse cx="1348" cy="429" rx="28.6" ry="25.6" fill="url(#gR)"/><ellipse cx="1355.6" cy="417.7" rx="4.6" ry="3.2" fill="#ff9090" opacity="0.75"/><ellipse cx="1340.4" cy="426.3" rx="2.4" ry="1.9" fill="#ff9090" opacity="0.55"/>
<ellipse cx="1348" cy="182" rx="28.6" ry="25.6" fill="url(#gR)"/><ellipse cx="1355.6" cy="170.7" rx="4.6" ry="3.2" fill="#ff9090" opacity="0.75"/><ellipse cx="1340.4" cy="179.3" rx="2.4" ry="1.9" fill="#ff9090" opacity="0.55"/>
<ellipse cx="1348" cy="233" rx="27.6" ry="24.7" fill="url(#gC)"/><ellipse cx="1355.3" cy="222.1" rx="4.4" ry="3.1" fill="#c0ffff" opacity="0.75"/><ellipse cx="1340.7" cy="230.4" rx="2.3" ry="1.8" fill="#c0ffff" opacity="0.55"/>
<ellipse cx="1552.7" cy="179" rx="28.6" ry="25.6" fill="url(#gR)"/><ellipse cx="1560.3" cy="167.7" rx="4.6" ry="3.2" fill="#ff9090" opacity="0.75"/><ellipse cx="1545.1" cy="176.3" rx="2.4" ry="1.9" fill="#ff9090" opacity="0.55"/>
<ellipse cx="1552" cy="231.6" rx="27.0" ry="24.2" fill="url(#gC)"/><ellipse cx="1559.1" cy="220.9" rx="4.3" ry="3.1" fill="#c0ffff" opacity="0.75"/><ellipse cx="1544.9" cy="229.0" rx="2.3" ry="1.8" fill="#c0ffff" opacity="0.55"/>
<ellipse cx="1451" cy="250" rx="27.0" ry="24.2" fill="url(#gC)"/><ellipse cx="1458.1" cy="239.3" rx="4.3" ry="3.1" fill="#c0ffff" opacity="0.75"/><ellipse cx="1443.9" cy="247.4" rx="2.3" ry="1.8" fill="#c0ffff" opacity="0.55"/>
<ellipse cx="1451" cy="303" rx="28.6" ry="25.6" fill="url(#gR)"/><ellipse cx="1458.6" cy="291.7" rx="4.6" ry="3.2" fill="#ff9090" opacity="0.75"/><ellipse cx="1443.4" cy="300.3" rx="2.4" ry="1.9" fill="#ff9090" opacity="0.55"/>
<ellipse cx="1451" cy="357" rx="27.0" ry="24.2" fill="url(#gC)"/><ellipse cx="1458.1" cy="346.3" rx="4.3" ry="3.1" fill="#c0ffff" opacity="0.75"/><ellipse cx="1443.9" cy="354.4" rx="2.3" ry="1.8" fill="#c0ffff" opacity="0.55"/>
<ellipse cx="1552" cy="375" rx="27.0" ry="24.2" fill="url(#gC)"/><ellipse cx="1559.1" cy="364.3" rx="4.3" ry="3.1" fill="#c0ffff" opacity="0.75"/><ellipse cx="1544.9" cy="372.4" rx="2.3" ry="1.8" fill="#c0ffff" opacity="0.55"/>
<ellipse cx="1552" cy="429" rx="28.6" ry="25.6" fill="url(#gR)"/><ellipse cx="1559.6" cy="417.7" rx="4.6" ry="3.2" fill="#ff9090" opacity="0.75"/><ellipse cx="1544.4" cy="426.3" rx="2.4" ry="1.9" fill="#ff9090" opacity="0.55"/>
<rect x="1314" y="130" width="72.5" height="336" fill="none" stroke="#b81818" stroke-width="4.6" stroke-dasharray="15 6"/>
<rect x="307.75" y="522" width="598.5" height="452" fill="none" stroke="#000" stroke-width="3.5"/>
<line x1="309" y1="749" x2="905" y2="749" stroke="#000" stroke-width="2.6"/>
<line x1="607" y1="523" x2="607" y2="973" stroke="#000" stroke-width="2.6"/>
<line x1="309" y1="547.0" x2="316" y2="547.0" stroke="#000" stroke-width="2.6"/>
<line x1="309" y1="648.0" x2="316" y2="648.0" stroke="#000" stroke-width="2.6"/>
<line x1="309" y1="749.0" x2="316" y2="749.0" stroke="#000" stroke-width="2.6"/>
<line x1="309" y1="850.0" x2="316" y2="850.0" stroke="#000" stroke-width="2.6"/>
<line x1="309" y1="951.0" x2="316" y2="951.0" stroke="#000" stroke-width="2.6"/>
<line x1="309" y1="597.5" x2="313.5" y2="597.5" stroke="#000" stroke-width="2.6"/>
<line x1="309" y1="698.5" x2="313.5" y2="698.5" stroke="#000" stroke-width="2.6"/>
<line x1="309" y1="799.5" x2="313.5" y2="799.5" stroke="#000" stroke-width="2.6"/>
<line x1="309" y1="900.5" x2="313.5" y2="900.5" stroke="#000" stroke-width="2.6"/>
<line x1="457.0" y1="972" x2="457.0" y2="965.5" stroke="#000" stroke-width="2.6"/>
<line x1="607.0" y1="972" x2="607.0" y2="965.5" stroke="#000" stroke-width="2.6"/>
<line x1="757.0" y1="972" x2="757.0" y2="965.5" stroke="#000" stroke-width="2.6"/>
<line x1="382.0" y1="972" x2="382.0" y2="968" stroke="#000" stroke-width="2.6"/>
<line x1="532.0" y1="972" x2="532.0" y2="968" stroke="#000" stroke-width="2.6"/>
<line x1="682.0" y1="972" x2="682.0" y2="968" stroke="#000" stroke-width="2.6"/>
<line x1="832.0" y1="972" x2="832.0" y2="968" stroke="#000" stroke-width="2.6"/>
<line x1="309" y1="811.3" x2="905" y2="684" stroke="#000" stroke-width="4.6"/>
<polyline fill="none" stroke="#b014c4" stroke-width="6.2" stroke-linejoin="round" points="308.50,949.87 309.25,949.86 309.99,949.85 310.74,949.84 311.49,949.83 312.23,949.82 312.98,949.81 313.72,949.80 314.47,949.79 315.22,949.78 315.96,949.76 316.71,949.75 317.46,949.74 318.20,949.73 318.95,949.72 319.69,949.71 320.44,949.70 321.19,949.69 321.93,949.67 322.68,949.66 323.43,949.65 324.17,949.64 324.92,949.63 325.66,949.62 326.41,949.60 327.16,949.59 327.90,949.58 328.65,949.57 329.39,949.55 330.14,949.54 330.89,949.53 331.63,949.51 332.38,949.50 333.13,949.49 333.87,949.47 334.62,949.46 335.37,949.45 336.11,949.43 336.86,949.42 337.60,949.40 338.35,949.39 339.10,949.38 339.84,949.36 340.59,949.35 341.34,949.33 342.08,949.32 342.83,949.30 343.57,949.29 344.32,949.27 345.07,949.25 345.81,949.24 346.56,949.22 347.31,949.21 348.05,949.19 348.80,949.17 349.54,949.16 350.29,949.14 351.04,949.12 351.78,949.11 352.53,949.09 353.27,949.07 354.02,949.05 354.77,949.04 355.51,949.02 356.26,949.00 357.01,948.98 357.75,948.96 358.50,948.95 359.25,948.93 359.99,948.91 360.74,948.89 361.48,948.87 362.23,948.85 362.98,948.83 363.72,948.81 364.47,948.79 365.22,948.77 365.96,948.75 366.71,948.73 367.45,948.71 368.20,948.69 368.95,948.66 369.69,948.64 370.44,948.62 371.19,948.60 371.93,948.58 372.68,948.55 373.42,948.53 374.17,948.51 374.92,948.48 375.66,948.46 376.41,948.44 377.15,948.41 377.90,948.39 378.65,948.36 379.39,948.34 380.14,948.31 380.89,948.29 381.63,948.26 382.38,948.24 383.12,948.21 383.87,948.18 384.62,948.16 385.36,948.13 386.11,948.10 386.86,948.08 387.60,948.05 388.35,948.02 389.09,947.99 389.84,947.96 390.59,947.93 391.33,947.90 392.08,947.87 392.83,947.84 393.57,947.81 394.32,947.78 395.06,947.75 395.81,947.72 396.56,947.69 397.30,947.66 398.05,947.63 398.80,947.59 399.54,947.56 400.29,947.53 401.03,947.49 401.78,947.46 402.53,947.42 403.27,947.39 404.02,947.35 404.77,947.32 405.51,947.28 406.26,947.25 407.00,947.21 407.75,947.17 408.50,947.13 409.24,947.10 409.99,947.06 410.74,947.02 411.48,946.98 412.23,946.94 412.98,946.90 413.72,946.86 414.47,946.82 415.21,946.78 415.96,946.73 416.71,946.69 417.45,946.65 418.20,946.61 418.94,946.56 419.69,946.52 420.44,946.47 421.18,946.43 421.93,946.38 422.68,946.33 423.42,946.29 424.17,946.24 424.91,946.19 425.66,946.14 426.41,946.09 427.15,946.04 427.90,945.99 428.65,945.94 429.39,945.89 430.14,945.84 430.88,945.79 431.63,945.73 432.38,945.68 433.12,945.62 433.87,945.57 434.62,945.51 435.36,945.46 436.11,945.40 436.86,945.34 437.60,945.28 438.35,945.22 439.09,945.16 439.84,945.10 440.59,945.04 441.33,944.98 442.08,944.91 442.82,944.85 443.57,944.79 444.32,944.72 445.06,944.65 445.81,944.59 446.56,944.52 447.30,944.45 448.05,944.38 448.80,944.31 449.54,944.24 450.29,944.17 451.03,944.09 451.78,944.02 452.53,943.95 453.27,943.87 454.02,943.79 454.76,943.72 455.51,943.64 456.26,943.56 457.00,943.48 457.75,943.40 458.50,943.31 459.24,943.23 459.99,943.14 460.74,943.06 461.48,942.97 462.23,942.88 462.97,942.80 463.72,942.70 464.47,942.61 465.21,942.52 465.96,942.43 466.70,942.33 467.45,942.24 468.20,942.14 468.94,942.04 469.69,941.94 470.44,941.84 471.18,941.73 471.93,941.63 472.68,941.52 473.42,941.42 474.17,941.31 474.91,941.20 475.66,941.09 476.41,940.97 477.15,940.86 477.90,940.74 478.64,940.63 479.39,940.51 480.14,940.39 480.88,940.26 481.63,940.14 482.38,940.01 483.12,939.89 483.87,939.76 484.62,939.63 485.36,939.49 486.11,939.36 486.85,939.22 487.60,939.08 488.35,938.94 489.09,938.80 489.84,938.65 490.58,938.51 491.33,938.36 492.08,938.21 492.82,938.05 493.57,937.90 494.32,937.74 495.06,937.58 495.81,937.42 496.56,937.25 497.30,937.08 498.05,936.91 498.79,936.74 499.54,936.56 500.29,936.39 501.03,936.21 501.78,936.02 502.52,935.84 503.27,935.65 504.02,935.46 504.76,935.26 505.51,935.06 506.26,934.86 507.00,934.66 507.75,934.45 508.50,934.24 509.24,934.03 509.99,933.81 510.73,933.59 511.48,933.37 512.23,933.14 512.97,932.91 513.72,932.67 514.47,932.43 515.21,932.19 515.96,931.95 516.70,931.69 517.45,931.44 518.20,931.18 518.94,930.92 519.69,930.65 520.43,930.38 521.18,930.10 521.93,929.82 522.67,929.53 523.42,929.24 524.17,928.94 524.91,928.64 525.66,928.33 526.40,928.02 527.15,927.70 527.90,927.38 528.64,927.05 529.39,926.71 530.14,926.37 530.88,926.03 531.63,925.67 532.38,925.31 533.12,924.94 533.87,924.57 534.61,924.19 535.36,923.80 536.11,923.41 536.85,923.00 537.60,922.59 538.35,922.18 539.09,921.75 539.84,921.31 540.58,920.87 541.33,920.42 542.08,919.96 542.82,919.49 543.57,919.01 544.32,918.52 545.06,918.02 545.81,917.51 546.55,916.99 547.30,916.46 548.05,915.92 548.79,915.37 549.54,914.80 550.28,914.23 551.03,913.64 551.78,913.03 552.52,912.42 553.27,911.79 554.02,911.15 554.76,910.49 555.51,909.82 556.25,909.13 557.00,908.43 557.75,907.71 558.49,906.98 559.24,906.23 559.99,905.45 560.73,904.67 561.48,903.86 562.23,903.03 562.97,902.18 563.72,901.32 564.46,900.43 565.21,899.51 565.96,898.58 566.70,897.62 567.45,896.64 568.20,895.63 568.94,894.59 569.69,893.53 570.43,892.43 571.18,891.31 571.93,890.16 572.67,888.97 573.42,887.75 574.16,886.50 574.91,885.21 575.66,883.88 576.40,882.52 577.15,881.11 577.90,879.66 578.64,878.17 579.39,876.63 580.13,875.05 580.88,873.41 581.63,871.72 582.37,869.98 583.12,868.18 583.87,866.31 584.61,864.39 585.36,862.40 586.11,860.34 586.85,858.21 587.60,856.00 588.34,853.71 589.09,851.34 589.84,848.87 590.58,846.32 591.33,843.66 592.08,840.90 592.82,838.02 593.57,835.03 594.31,831.92 595.06,828.67 595.81,825.29 596.55,821.75 597.30,818.05 598.04,814.19 598.79,810.14 599.54,805.90 600.28,801.45 601.03,796.78 601.78,791.87 602.52,786.71 603.27,781.26 604.01,775.52 604.76,769.45 605.51,763.03 606.25,756.22 607.00,749.00 607.75,741.78 608.49,734.97 609.24,728.55 609.99,722.48 610.73,716.74 611.48,711.29 612.22,706.13 612.97,701.22 613.72,696.55 614.46,692.10 615.21,687.86 615.96,683.81 616.70,679.95 617.45,676.25 618.19,672.71 618.94,669.33 619.69,666.08 620.43,662.97 621.18,659.98 621.92,657.10 622.67,654.34 623.42,651.68 624.16,649.13 624.91,646.66 625.66,644.29 626.40,642.00 627.15,639.79 627.89,637.66 628.64,635.60 629.39,633.61 630.13,631.69 630.88,629.82 631.63,628.02 632.37,626.28 633.12,624.59 633.87,622.95 634.61,621.37 635.36,619.83 636.10,618.34 636.85,616.89 637.60,615.48 638.34,614.12 639.09,612.79 639.84,611.50 640.58,610.25 641.33,609.03 642.07,607.84 642.82,606.69 643.57,605.57 644.31,604.47 645.06,603.41 645.80,602.37 646.55,601.36 647.30,600.38 648.04,599.42 648.79,598.49 649.54,597.57 650.28,596.68 651.03,595.82 651.77,594.97 652.52,594.14 653.27,593.33 654.01,592.55 654.76,591.77 655.51,591.02 656.25,590.29 657.00,589.57 657.75,588.87 658.49,588.18 659.24,587.51 659.98,586.85 660.73,586.21 661.48,585.58 662.22,584.97 662.97,584.36 663.72,583.77 664.46,583.20 665.21,582.63 665.95,582.08 666.70,581.54 667.45,581.01 668.19,580.49 668.94,579.98 669.68,579.48 670.43,578.99 671.18,578.51 671.92,578.04 672.67,577.58 673.42,577.13 674.16,576.69 674.91,576.25 675.65,575.82 676.40,575.41 677.15,575.00 677.89,574.59 678.64,574.20 679.39,573.81 680.13,573.43 680.88,573.06 681.62,572.69 682.37,572.33 683.12,571.97 683.86,571.63 684.61,571.29 685.36,570.95 686.10,570.62 686.85,570.30 687.60,569.98 688.34,569.67 689.09,569.36 689.83,569.06 690.58,568.76 691.33,568.47 692.07,568.18 692.82,567.90 693.57,567.62 694.31,567.35 695.06,567.08 695.80,566.82 696.55,566.56 697.30,566.31 698.04,566.05 698.79,565.81 699.53,565.57 700.28,565.33 701.03,565.09 701.77,564.86 702.52,564.63 703.27,564.41 704.01,564.19 704.76,563.97 705.50,563.76 706.25,563.55 707.00,563.34 707.74,563.14 708.49,562.94 709.24,562.74 709.98,562.54 710.73,562.35 711.47,562.16 712.22,561.98 712.97,561.79 713.71,561.61 714.46,561.44 715.21,561.26 715.95,561.09 716.70,560.92 717.45,560.75 718.19,560.58 718.94,560.42 719.68,560.26 720.43,560.10 721.18,559.95 721.92,559.79 722.67,559.64 723.42,559.49 724.16,559.35 724.91,559.20 725.65,559.06 726.40,558.92 727.15,558.78 727.89,558.64 728.64,558.51 729.38,558.37 730.13,558.24 730.88,558.11 731.62,557.99 732.37,557.86 733.12,557.74 733.86,557.61 734.61,557.49 735.36,557.37 736.10,557.26 736.85,557.14 737.59,557.03 738.34,556.91 739.09,556.80 739.83,556.69 740.58,556.58 741.33,556.48 742.07,556.37 742.82,556.27 743.56,556.16 744.31,556.06 745.06,555.96 745.80,555.86 746.55,555.76 747.29,555.67 748.04,555.57 748.79,555.48 749.53,555.39 750.28,555.30 751.03,555.20 751.77,555.12 752.52,555.03 753.26,554.94 754.01,554.86 754.76,554.77 755.50,554.69 756.25,554.60 757.00,554.52 757.74,554.44 758.49,554.36 759.24,554.28 759.98,554.21 760.73,554.13 761.47,554.05 762.22,553.98 762.97,553.91 763.71,553.83 764.46,553.76 765.20,553.69 765.95,553.62 766.70,553.55 767.44,553.48 768.19,553.41 768.94,553.35 769.68,553.28 770.43,553.21 771.17,553.15 771.92,553.09 772.67,553.02 773.41,552.96 774.16,552.90 774.91,552.84 775.65,552.78 776.40,552.72 777.14,552.66 777.89,552.60 778.64,552.54 779.38,552.49 780.13,552.43 780.88,552.38 781.62,552.32 782.37,552.27 783.12,552.21 783.86,552.16 784.61,552.11 785.35,552.06 786.10,552.01 786.85,551.96 787.59,551.91 788.34,551.86 789.09,551.81 789.83,551.76 790.58,551.71 791.32,551.67 792.07,551.62 792.82,551.57 793.56,551.53 794.31,551.48 795.06,551.44 795.80,551.39 796.55,551.35 797.29,551.31 798.04,551.27 798.79,551.22 799.53,551.18 800.28,551.14 801.02,551.10 801.77,551.06 802.52,551.02 803.26,550.98 804.01,550.94 804.76,550.90 805.50,550.87 806.25,550.83 806.99,550.79 807.74,550.75 808.49,550.72 809.23,550.68 809.98,550.65 810.73,550.61 811.47,550.58 812.22,550.54 812.97,550.51 813.71,550.47 814.46,550.44 815.20,550.41 815.95,550.37 816.70,550.34 817.44,550.31 818.19,550.28 818.94,550.25 819.68,550.22 820.43,550.19 821.17,550.16 821.92,550.13 822.67,550.10 823.41,550.07 824.16,550.04 824.90,550.01 825.65,549.98 826.40,549.95 827.14,549.92 827.89,549.90 828.64,549.87 829.38,549.84 830.13,549.82 830.88,549.79 831.62,549.76 832.37,549.74 833.11,549.71 833.86,549.69 834.61,549.66 835.35,549.64 836.10,549.61 836.85,549.59 837.59,549.56 838.34,549.54 839.08,549.52 839.83,549.49 840.58,549.47 841.32,549.45 842.07,549.42 842.81,549.40 843.56,549.38 844.31,549.36 845.05,549.34 845.80,549.31 846.55,549.29 847.29,549.27 848.04,549.25 848.79,549.23 849.53,549.21 850.28,549.19 851.02,549.17 851.77,549.15 852.52,549.13 853.26,549.11 854.01,549.09 854.75,549.07 855.50,549.05 856.25,549.04 856.99,549.02 857.74,549.00 858.49,548.98 859.23,548.96 859.98,548.95 860.72,548.93 861.47,548.91 862.22,548.89 862.96,548.88 863.71,548.86 864.46,548.84 865.20,548.83 865.95,548.81 866.69,548.79 867.44,548.78 868.19,548.76 868.93,548.75 869.68,548.73 870.43,548.71 871.17,548.70 871.92,548.68 872.67,548.67 873.41,548.65 874.16,548.64 874.90,548.62 875.65,548.61 876.40,548.60 877.14,548.58 877.89,548.57 878.63,548.55 879.38,548.54 880.13,548.53 880.87,548.51 881.62,548.50 882.37,548.49 883.11,548.47 883.86,548.46 884.61,548.45 885.35,548.43 886.10,548.42 886.84,548.41 887.59,548.40 888.34,548.38 889.08,548.37 889.83,548.36 890.58,548.35 891.32,548.34 892.07,548.33 892.81,548.31 893.56,548.30 894.31,548.29 895.05,548.28 895.80,548.27 896.54,548.26 897.29,548.25 898.04,548.24 898.78,548.22 899.53,548.21 900.28,548.20 901.02,548.19 901.77,548.18 902.51,548.17 903.26,548.16 904.01,548.15 904.75,548.14 905.50,548.13"/>
<text x="296" y="556.0" text-anchor="end" class="tk">8</text>
<text x="296" y="658.5" text-anchor="end" class="tk">4</text>
<text x="296" y="760.0" text-anchor="end" class="tk">0</text>
<text x="296" y="860.5" text-anchor="end" class="tk">−4</text>
<text x="296" y="958.5" text-anchor="end" class="tk">−8</text>
<text x="307.0" y="1008.5" text-anchor="middle" class="tk">−2</text>
<text x="457.0" y="1008.5" text-anchor="middle" class="tk">−1</text>
<text x="607.0" y="1008.5" text-anchor="middle" class="tk">0</text>
<text x="757.0" y="1008.5" text-anchor="middle" class="tk">1</text>
<text x="907.0" y="1008.5" text-anchor="middle" class="tk">2</text>
<line x1="778" y1="914.5" x2="838" y2="914.5" stroke="#b014c4" stroke-width="5"/>
<line x1="778" y1="943.5" x2="838" y2="943.5" stroke="#000" stroke-width="5"/>
<text x="845" y="924" class="lg">10 T</text>
<text x="845" y="953" class="lg">0 T</text>
<text x="606" y="1061" text-anchor="middle" class="al"><tspan font-style="italic">μ</tspan><tspan font-size="24" dy="7">0</tspan><tspan font-style="italic" dy="-7">H</tspan> (T)</text>
<text transform="translate(246.8,749.5) rotate(-90) scale(0.949,1)" text-anchor="middle" class="al" font-size="35"><tspan font-style="italic">M</tspan> (10<tspan font-size="23" dy="-15.5">−3</tspan><tspan dy="15.5"> emu/g)</tspan></text>
<rect x="1014" y="943.5" width="74" height="27" fill="url(#sb)"/>
<rect x="1088" y="943.5" width="142" height="27" fill="#f9bb74"/>
<rect x="1230" y="943.5" width="148" height="27" fill="#84f078"/>
<rect x="1378" y="943.5" width="231" height="27" fill="#f68cf6"/>
<text x="1015" y="965" class="bd" fill="#0a2a40" textLength="69" lengthAdjust="spacingAndGlyphs">S-band</text>
<text x="1120" y="965" class="bd" fill="#2a1a0a" textLength="73" lengthAdjust="spacingAndGlyphs">C-band</text>
<text x="1266" y="965" class="bd" fill="#0a4010" textLength="73.5" lengthAdjust="spacingAndGlyphs">X-band</text>
<text x="1440" y="965" class="bd" fill="#4a104a" textLength="88" lengthAdjust="spacingAndGlyphs">Ku-band</text>
<rect x="1012.75" y="522" width="597.5" height="451.25" fill="none" stroke="#000" stroke-width="5.5"/>
<line x1="1017" y1="597.5" x2="1607" y2="597.5" stroke="#000" stroke-width="2.6" stroke-dasharray="6 9"/>
<path fill="none" stroke="#000" stroke-width="4.6" stroke-linejoin="round" d="M1013.00,539.40 L1018.08,539.53 L1024.51,539.70 L1032.09,539.90 L1040.59,540.13 L1049.82,540.38 L1059.56,540.63 L1069.61,540.89 L1079.74,541.14 L1089.76,541.37 L1099.45,541.58 L1108.60,541.76 L1117.00,541.90 L1125.03,541.99 L1133.17,542.04 L1141.33,542.05 L1149.44,542.03 L1157.44,542.00 L1165.25,541.97 L1172.79,541.94 L1180.00,541.92 L1186.80,541.93 L1193.11,541.97 L1198.87,542.06 L1204.00,542.20 L1208.31,542.38 L1211.76,542.58 L1214.49,542.80 L1216.67,543.04 L1218.43,543.31 L1219.94,543.60 L1221.34,543.92 L1222.78,544.27 L1224.41,544.65 L1226.40,545.07 L1228.87,545.51 L1232.00,546.00 L1235.74,546.54 L1239.90,547.13 L1244.41,547.78 L1249.19,548.47 L1254.16,549.18 L1259.25,549.92 L1264.38,550.68 L1269.48,551.43 L1274.47,552.18 L1279.27,552.92 L1283.80,553.63 L1288.00,554.30 L1291.85,554.93 L1295.42,555.53 L1298.77,556.11 L1301.96,556.66 L1305.04,557.21 L1308.06,557.77 L1311.08,558.34 L1314.15,558.93 L1317.32,559.55 L1320.65,560.21 L1324.19,560.93 L1328.00,561.70 L1332.10,562.58 L1336.44,563.57 L1340.98,564.66 L1345.67,565.80 L1350.46,566.98 L1355.31,568.16 L1360.17,569.32 L1365.00,570.42 L1369.74,571.44 L1374.35,572.34 L1378.79,573.11 L1383.00,573.70 L1387.01,574.15 L1390.88,574.51 L1394.64,574.78 L1398.30,574.97 L1401.87,575.07 L1405.38,575.09 L1408.83,575.03 L1412.26,574.90 L1415.67,574.70 L1419.09,574.43 L1422.52,574.10 L1426.00,573.70 L1429.50,573.19 L1433.00,572.52 L1436.48,571.73 L1439.96,570.84 L1443.43,569.88 L1446.88,568.88 L1450.30,567.86 L1453.70,566.86 L1457.08,565.89 L1460.42,564.99 L1463.73,564.18 L1467.00,563.50 L1470.19,562.91 L1473.29,562.37 L1476.32,561.87 L1479.30,561.41 L1482.24,560.99 L1485.19,560.61 L1488.15,560.27 L1491.15,559.96 L1494.21,559.68 L1497.36,559.42 L1500.61,559.20 L1504.00,559.00 L1507.55,558.86 L1511.25,558.81 L1515.08,558.82 L1519.00,558.88 L1522.98,558.97 L1527.00,559.07 L1531.02,559.18 L1535.00,559.26 L1538.92,559.30 L1542.75,559.28 L1546.45,559.19 L1550.00,559.00 L1553.45,558.71 L1556.87,558.32 L1560.26,557.86 L1563.59,557.34 L1566.86,556.79 L1570.06,556.21 L1573.17,555.62 L1576.19,555.06 L1579.09,554.52 L1581.86,554.04 L1584.51,553.63 L1587.00,553.30 L1589.38,553.05 L1591.67,552.86 L1593.87,552.72 L1595.96,552.61 L1597.95,552.54 L1599.81,552.49 L1601.55,552.47 L1603.15,552.46 L1604.60,552.45 L1605.90,552.44 L1607.04,552.43 L1608.00,552.40"/>
<path fill="none" stroke="#e010e8" stroke-width="7" stroke-linejoin="round" stroke-linecap="round" d="M1012.79,539.41 L1015.13,539.45 L1017.48,539.49 L1019.82,539.54 L1022.17,539.59 L1024.51,539.66 L1026.86,539.73 L1029.20,539.81 L1031.55,539.89 L1033.89,539.98 L1036.24,540.08 L1038.58,540.19 L1040.93,540.30 L1043.27,540.42 L1045.62,540.55 L1047.96,540.69 L1050.31,540.83 L1052.65,540.97 L1055.00,541.13 L1057.34,541.29 L1059.69,541.46 L1062.03,541.63 L1064.38,541.81 L1066.72,541.99 L1069.07,542.20 L1071.41,542.43 L1073.76,542.68 L1076.10,542.96 L1078.45,543.25 L1080.79,543.58 L1083.14,543.93 L1085.48,544.30 L1087.82,544.71 L1090.17,545.13 L1092.51,545.59 L1094.86,546.07 L1097.20,546.58 L1099.55,547.12 L1101.89,547.68 L1104.24,548.29 L1106.58,548.96 L1108.93,549.71 L1111.27,550.54 L1113.62,551.44 L1115.96,552.42 L1118.31,553.46 L1120.65,554.58 L1123.00,555.76 L1125.34,557.01 L1127.69,558.31 L1130.03,559.66 L1132.38,561.08 L1134.72,562.61 L1137.07,564.27 L1139.41,566.04 L1141.76,567.95 L1144.10,570.00 L1146.45,572.18 L1148.79,574.49 L1151.14,576.98 L1151.14,576.98 L1152.62,578.65 L1154.05,580.35 L1155.42,582.06 L1156.74,583.79 L1158.00,585.53 L1159.21,587.28 L1160.38,589.05 L1161.50,590.82 L1162.57,592.60 L1163.60,594.39 L1164.59,596.18 L1165.54,597.98 L1166.45,599.79 L1167.32,601.59 L1168.16,603.40 L1168.97,605.22 L1169.74,607.04 L1170.49,608.88 L1171.20,610.72 L1171.88,612.57 L1172.54,614.43 L1173.17,616.29 L1173.78,618.17 L1174.36,620.05 L1174.92,621.94 L1175.46,623.83 L1175.97,625.74 L1176.46,627.65 L1176.94,629.57 L1177.39,631.49 L1177.83,633.41 L1178.25,635.33 L1178.65,637.25 L1179.04,639.17 L1179.41,641.10 L1179.77,643.03 L1180.11,644.98 L1180.44,646.93 L1180.75,648.89 L1181.06,650.87 L1181.35,652.86 L1181.63,654.87 L1181.90,656.90 L1182.15,658.94 L1182.40,661.01 L1182.64,663.10 L1182.86,665.21 L1183.08,667.35 L1183.29,669.53 L1183.49,671.73 L1183.69,673.97 L1183.87,676.25 L1184.05,678.55 L1184.22,680.88 L1184.39,683.23 L1184.54,685.61 L1184.69,688.01 L1184.84,690.42 L1184.98,692.86"/>
<path fill="none" stroke="#e010e8" stroke-width="7" stroke-linejoin="round" stroke-linecap="round" d="M1191.67,692.83 L1191.81,690.00 L1191.95,687.18 L1192.09,684.40 L1192.25,681.67 L1192.40,678.98 L1192.57,676.37 L1192.74,673.83 L1192.92,671.38 L1193.10,669.03 L1193.29,666.79 L1193.49,664.67 L1193.70,662.66 L1193.92,660.74 L1194.14,658.88 L1194.38,657.09 L1194.62,655.36 L1194.88,653.69 L1195.14,652.07 L1195.41,650.49 L1195.70,648.94 L1196.00,647.43 L1196.31,645.94 L1196.63,644.48 L1196.96,643.02 L1197.31,641.58 L1197.67,640.13 L1198.05,638.69 L1198.44,637.23 L1198.85,635.76 L1199.27,634.26 L1199.71,632.74 L1200.17,631.19 L1200.65,629.59 L1201.14,627.96 L1201.66,626.27 L1202.20,624.52 L1202.76,622.71 L1203.34,620.80 L1203.94,618.80 L1204.57,616.73 L1205.23,614.61 L1205.91,612.45 L1206.61,610.28 L1207.35,608.11 L1208.12,605.95 L1208.92,603.83 L1209.74,601.76 L1210.61,599.76 L1211.51,597.84 L1212.44,596.03 L1213.41,594.34 L1214.42,592.75 L1215.47,591.21 L1216.57,589.71 L1217.70,588.24 L1218.89,586.81 L1220.12,585.43 L1221.40,584.08 L1222.73,582.76 L1224.12,581.49 L1225.56,580.25 L1227.06,579.05 L1228.62,577.89 L1230.24,576.76 L1231.93,575.67 L1233.69,574.61 L1235.51,573.60 L1237.41,572.62 L1239.39,571.67 L1241.45,570.75 L1243.59,569.86 L1245.81,568.98 L1248.13,568.13 L1250.54,567.29 L1253.05,566.45 L1255.65,565.63 L1258.36,564.80 L1261.19,563.97 L1264.12,563.14 L1267.17,562.31 L1270.35,561.50 L1273.65,560.70 L1277.09,559.93 L1280.67,559.20 L1284.39,558.51 L1288.26,557.88 L1292.28,557.30 L1296.47,556.78 L1300.83,556.29 L1305.36,555.81 L1310.07,555.33 L1314.98,554.83 L1320.08,554.29 L1325.39,553.72 L1330.91,553.13 L1336.65,552.52 L1342.63,551.89 L1348.84,551.25 L1355.31,550.60 L1357.73,550.54 L1361.89,550.36 L1366.05,550.20 L1370.21,550.03 L1374.37,549.88 L1378.53,549.73 L1382.69,549.60 L1386.85,549.48 L1391.01,549.37 L1395.17,549.28 L1399.33,549.21 L1403.49,549.15 L1407.65,549.10 L1411.81,549.05 L1415.97,549.00 L1420.13,548.96 L1424.29,548.91 L1428.45,548.87 L1432.61,548.84 L1436.77,548.80 L1440.93,548.77 L1445.09,548.74 L1449.25,548.72 L1453.41,548.70 L1457.57,548.69 L1461.73,548.68 L1465.89,548.68 L1470.05,548.70 L1474.21,548.80 L1478.37,548.95 L1482.53,549.17 L1486.69,549.43 L1490.85,549.73 L1495.01,550.05 L1499.17,550.40 L1503.33,550.77 L1507.50,551.14 L1511.66,551.50 L1515.82,551.86 L1519.98,552.19 L1524.14,552.50 L1528.30,552.81 L1532.46,553.12 L1536.62,553.44 L1540.78,553.77 L1544.94,554.09 L1549.10,554.43 L1553.26,554.77 L1557.42,555.12 L1561.58,555.47 L1565.74,555.84 L1569.90,556.21 L1574.06,556.59 L1578.22,556.97 L1582.38,557.37 L1586.54,557.79 L1590.70,558.23 L1594.86,558.68 L1599.02,559.14 L1603.18,559.60"/>
<path fill="#e010e8" d="M1183.6,688 L1193.6,688 L1193,924 Q1188.8,926.5 1184.6,924 Z"/>
<text x="1000" y="547.5" text-anchor="end" class="tk2">0</text>
<text x="1000" y="662.3" text-anchor="end" class="tk2">-20</text>
<text x="1000" y="777.1" text-anchor="end" class="tk2">-40</text>
<text x="1000" y="891.9" text-anchor="end" class="tk2">-60</text>
<text x="1010.3" y="1009.8" text-anchor="middle" class="tk" textLength="16.8" lengthAdjust="spacingAndGlyphs">2</text>
<text x="1084.3" y="1009.8" text-anchor="middle" class="tk" textLength="16.8" lengthAdjust="spacingAndGlyphs">4</text>
<text x="1156.8" y="1009.8" text-anchor="middle" class="tk" textLength="16.8" lengthAdjust="spacingAndGlyphs">6</text>
<text x="1230.8" y="1009.8" text-anchor="middle" class="tk" textLength="16.8" lengthAdjust="spacingAndGlyphs">8</text>
<text x="1305.4" y="1009.8" text-anchor="middle" class="tk" textLength="33.6" lengthAdjust="spacingAndGlyphs">10</text>
<text x="1381.2" y="1009.8" text-anchor="middle" class="tk" textLength="33.6" lengthAdjust="spacingAndGlyphs">12</text>
<text x="1455.7" y="1009.8" text-anchor="middle" class="tk" textLength="33.6" lengthAdjust="spacingAndGlyphs">14</text>
<text x="1530.5" y="1009.8" text-anchor="middle" class="tk" textLength="33.6" lengthAdjust="spacingAndGlyphs">16</text>
<text x="1605.4" y="1009.8" text-anchor="middle" class="tk" textLength="33.6" lengthAdjust="spacingAndGlyphs">18</text>
<text x="1311" y="1055" text-anchor="middle" class="al2">Frequency (GHz)</text>
<text transform="translate(952,739.3) rotate(-90)" text-anchor="middle" class="al" font-size="29.5" textLength="102" lengthAdjust="spacingAndGlyphs">RL (dB)</text>
<text x="1509.5" y="595" class="lg2" textLength="52" lengthAdjust="spacingAndGlyphs">0 T</text>
<text x="1347" y="634" class="db" textLength="119" lengthAdjust="spacingAndGlyphs">-6.3 dB</text>
<text x="1203.5" y="927.5" class="db" textLength="136" lengthAdjust="spacingAndGlyphs">-66.3 dB</text>
<text x="1100" y="822.3" class="mg" textLength="69" lengthAdjust="spacingAndGlyphs">10 T</text>
</svg>
</body></html>
